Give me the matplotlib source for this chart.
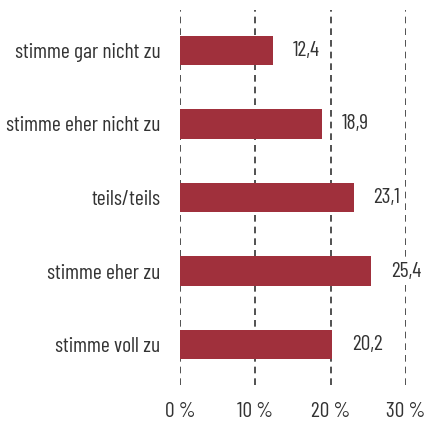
import matplotlib
matplotlib.use("Agg")
import matplotlib.pyplot as plt

categories = ["stimme gar nicht zu", "stimme eher nicht zu", "teils/teils", "stimme eher zu", "stimme voll zu"]
values = [12.4, 18.9, 23.1, 25.4, 20.2]
value_labels = ["12,4", "18,9", "23,1", "25,4", "20,2"]
xticks = [0, 10, 20, 30]
xtick_labels = ["0 %", "10 %", "20 %", "30 %"]

fam = ["Barlow Condensed", "Roboto Condensed", "Oswald", "Asap Condensed", "DejaVu Sans"]
plt.rcParams["font.family"] = fam
plt.rcParams["font.weight"] = 400

fs = 15.5
fig = plt.figure(figsize=(4.25, 4.23), dpi=100)
ax = fig.add_axes([180/425, 1-385/423, (406-180)/425, (385-10)/423])
y = list(range(len(categories)))
ax.barh(y, values, height=0.4, color="#A0303C", zorder=3)
ax.set_ylim(4.5 + 0.05, -0.5 - 0.05)
ax.set_xlim(0, 30)
for v in xticks:
    ax.axvline(v, color="#333333", lw=1.2, ls=(0, (4, 3)), zorder=1)
for yi, v, lab in zip(y, values, value_labels):
    ax.text(v + 2.6, yi, lab, va="center", ha="left", fontsize=fs, color="#333333",
            bbox=dict(facecolor="white", edgecolor="none", pad=3), zorder=2)
ax.set_yticks(y)
ax.set_yticklabels(categories, fontsize=fs, color="#333333")
ax.set_xticks(xticks)
ax.set_xticklabels(xtick_labels, fontsize=fs, color="#333333")
ax.tick_params(axis="y", length=0, pad=14)
ax.tick_params(axis="x", length=0, pad=12)
for s in ax.spines.values():
    s.set_visible(False)
fig.savefig("out.png", dpi=100)
